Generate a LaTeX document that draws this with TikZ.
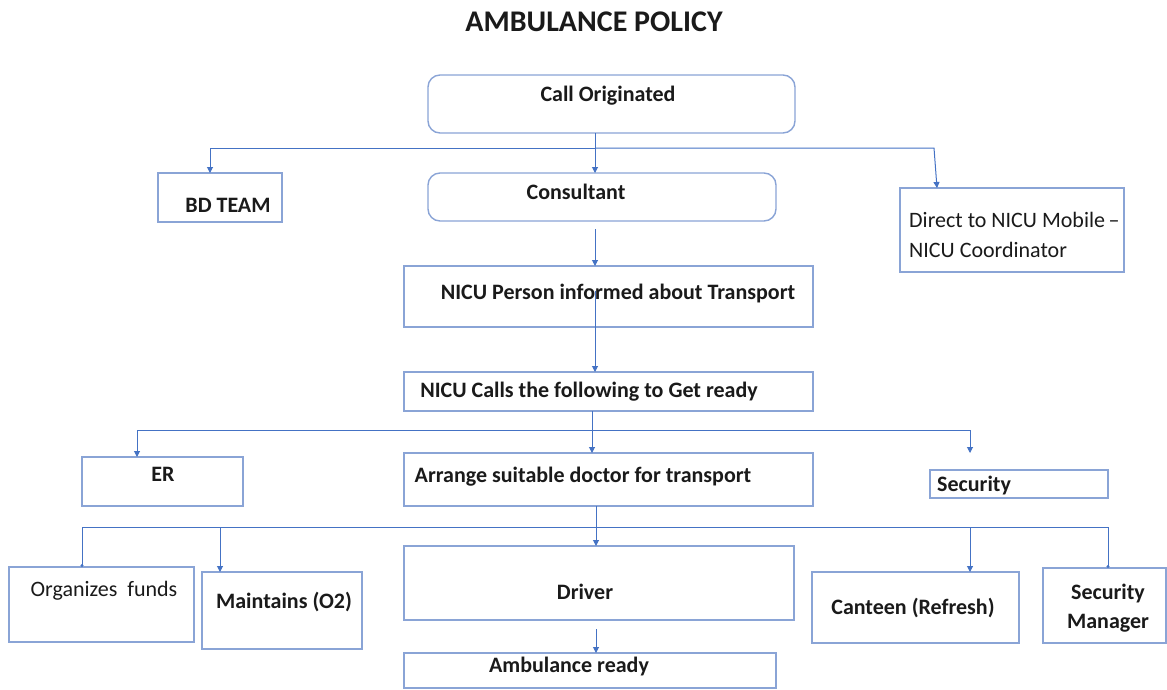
\documentclass[tikz,border=0pt]{standalone}
\usepackage{fontspec}
\setmainfont{Carlito}
\usetikzlibrary{arrows.meta,calc}

\definecolor{linkblue}{HTML}{4472C4}
\definecolor{boxblue}{HTML}{8AA4D6}
\definecolor{ink}{HTML}{1A1A1A}

\tikzset{
  box/.style={draw=boxblue, line width=1.4pt, fill=white, inner sep=0pt, outer sep=0pt},
  rbox/.style={box, rounded corners=12pt},
  lbl/.style={text=ink, inner sep=0pt, font=\fontsize{22}{26}\selectfont\bfseries},
  lblr/.style={text=ink, inner sep=0pt, font=\fontsize{22}{26}\selectfont},
  link/.style={draw=linkblue, line width=1pt},
  arr/.style={link, -{Triangle[length=6pt,width=6pt]}},
  dotend/.style={link, -{Circle[length=3pt]}},
}

\begin{document}
\begin{tikzpicture}[x=1pt, y=-1pt]
\useasboundingbox (0,0) rectangle (1167,689);

% title
\node[text=ink, inner sep=0pt, font=\fontsize{30}{34}\selectfont\bfseries] (title) at (594,22) {AMBULANCE POLICY};

% boxes (centre, width, height)
\node[rbox, minimum width=367pt, minimum height=58pt] (call) at (611.5,104) {};
\node[box,  minimum width=124pt, minimum height=49pt] (bd)   at (220,197.5) {};
\node[rbox, minimum width=348pt, minimum height=48pt] (cons) at (602,197) {};
\node[box,  minimum width=224pt, minimum height=84pt] (direct) at (1012,230) {};
\node[box,  minimum width=409pt, minimum height=61pt] (nicup) at (608.5,296.5) {};
\node[box,  minimum width=409pt, minimum height=39pt] (calls) at (608.5,391.5) {};
\node[box,  minimum width=161pt, minimum height=49pt] (er)   at (162.5,481.5) {};
\node[box,  minimum width=409pt, minimum height=53pt] (arrange) at (608.5,479.5) {};
\node[box,  minimum width=178pt, minimum height=28pt] (sec)  at (1019,484) {};
\node[box,  minimum width=185pt, minimum height=75pt] (org)  at (101.5,604.5) {};
\node[box,  minimum width=160pt, minimum height=77pt] (mnt)  at (282,610.5) {};
\node[box,  minimum width=390pt, minimum height=74pt] (drv)  at (599,583) {};
\node[box,  minimum width=372pt, minimum height=35pt] (amb)  at (590,670.5) {};
\node[box,  minimum width=207pt, minimum height=71pt] (can)  at (915.5,607.5) {};
\node[box,  minimum width=123pt, minimum height=75pt] (sm)   at (1104.5,605.5) {};

% texts
\node[lbl] (tcall) at (608,96) {Call Originated};
\node[lbl] (tbd) at (228,205) {BD TEAM};
\node[lbl] (tcons) at (576,192) {Consultant};
\node[lblr, anchor=west] (tdir1) at (909,220) {Direct to NICU Mobile\,–};
\node[lblr, anchor=west] (tdir2) at (909,250) {NICU Coordinator};
\node[lbl] (tnicup) at (618,294) {NICU Person informed about Transport};
\node[lbl] (tcalls) at (589,392) {NICU Calls the following to Get ready};
\node[lbl] (ter) at (163,474) {ER};
\node[lbl] (tarr) at (583,477) {Arrange suitable doctor for transport};
\node[lbl, anchor=west] (tsec) at (937,486) {Security};
\node[lblr] (torg) at (104,591) {Organizes\ \ funds};
\node[lbl] (tmnt) at (284,602) {Maintains (O2)};
\node[lbl] (tdrv) at (585,592) {Driver};
\node[lbl] (tamb) at (569,666) {Ambulance ready};
\node[lbl] (tcan) at (913,608) {Canteen (Refresh)};
\node[lbl, align=center] (tsm) at (1108,608) {Security\\[3pt]Manager};

% junctions of the connector buses
\coordinate (j1) at (595,148);
\coordinate (j2) at (592,430);
\coordinate (j3) at (596,527);

% call originated -> first row
\draw[link] (call.south -| j1) -- (j1);
\draw[arr] (j1) -- (cons.north -| j1);
\draw[arr] (j1) -| ([xshift=-10pt]bd.north);
\draw[arr] (j1) -- (934,148) -- ([xshift=-75pt]direct.north);

% consultant -> NICU person -> NICU calls
\draw[arr] ($(cons.south -| j1)+(0,8)$) -- (nicup.north -| j1);
\draw[arr] ($(nicup.center -| j1)+(0,-6)$) -- (calls.north -| j1);

% NICU calls -> second row
\draw[link] (calls.south -| j2) -- (j2);
\draw[arr] (j2) -- (arrange.north -| j2);
\draw[arr] (j2) -| ([xshift=-25.5pt]er.north);
\draw[arr] (j2) -| ($(sec.north)+(-49,-17)$);

% arrange doctor -> third row
\draw[link] (arrange.south -| j3) -- (j3);
\draw[arr] (j3) -- (drv.north -| j3);
\draw[dotend] (j3) -| ([xshift=-19.5pt]org.north);
\draw[arr] (j3) -| ([xshift=-62pt]mnt.north);
\draw[arr] (j3) -| ([xshift=54.5pt]can.north);
\draw[dotend] (j3) -| ([xshift=3.5pt]sm.north);

% driver -> ambulance ready
\draw[arr] ($(drv.south -| j3)+(0,9)$) -- (amb.north -| j3);
\end{tikzpicture}
\end{document}
